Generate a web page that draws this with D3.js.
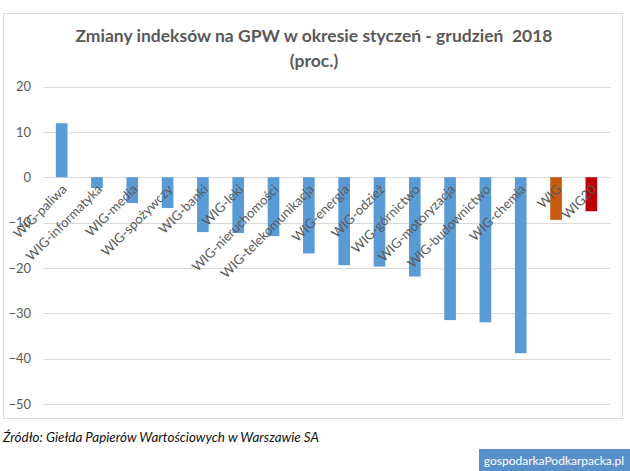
<!DOCTYPE html>
<html><head><meta charset="utf-8">
<script src="https://cdn.jsdelivr.net/npm/d3@7"></script>
<style>
body{margin:0;background:#fff;}
svg{display:block;font-family:Lato,"Open Sans",sans-serif;}
</style></head>
<body>
<svg id="c" width="630" height="471"></svg>
<script>
const categories = ["WIG-paliwa","WIG-informatyka","WIG-media","WIG-spożywczy","WIG-banki","WIG-leki","WIG-nieruchomości","WIG-telekomunikacja","WIG-energia","WIG-odzież","WIG-górnictwo","WIG-motoryzacja","WIG-budownictwo","WIG-chemia","WIG","WIG20"];
const values = [11.9,-2.4,-5.7,-6.8,-12.1,-12.3,-13.0,-16.8,-19.4,-19.7,-21.9,-31.5,-32.0,-38.8,-9.4,-7.5];
const barColors = ["#5b9bd5","#5b9bd5","#5b9bd5","#5b9bd5","#5b9bd5","#5b9bd5","#5b9bd5","#5b9bd5","#5b9bd5","#5b9bd5","#5b9bd5","#5b9bd5","#5b9bd5","#5b9bd5","#c55a11","#c00000"];
const yTicks = [20,10,0,-10,-20,-30,-40,-50];
const titleLines = ["Zmiany indeksów na GPW w okresie styczeń - grudzień  2018","(proc.)"];
const sourceText = "Źródło: Giełda Papierów Wartościowych w Warszawie SA";
const brandText = "gospodarkaPodkarpacka.pl";

const svg = d3.select("#c");
// chart frame
svg.append("rect").attr("x",3.5).attr("y",13.5).attr("width",619).attr("height",405)
  .attr("fill","#fff").attr("stroke","#d9d9d9");

const x = d3.scaleBand().domain(categories).range([44,609]).paddingInner(0.67).paddingOuter(0.335);
const y = d3.scaleLinear().domain([-50,20]).range([404,86.5]);

// gridlines
svg.append("g").selectAll("line").data(yTicks).join("line")
  .attr("x1",44).attr("x2",610).attr("y1",d=>Math.round(y(d))+0.5).attr("y2",d=>Math.round(y(d))+0.5)
  .attr("stroke","#d9d9d9").attr("stroke-width",1);

// y axis labels
const yAxis = d3.axisLeft(y).tickValues(yTicks).tickSize(0).tickPadding(0).tickFormat(d3.format("d"));
const ga = svg.append("g").attr("transform","translate(31,0)").call(yAxis);
ga.select(".domain").remove();
ga.selectAll("text").attr("fill","#595959").attr("font-size","13px").attr("font-family","Lato,sans-serif");

// bars
svg.append("g").selectAll("rect").data(values).join("rect")
  .attr("x",(d,i)=>x(categories[i]))
  .attr("width",x.bandwidth())
  .attr("y",d=>y(Math.max(0,d)))
  .attr("height",d=>Math.abs(y(d)-y(0)))
  .attr("fill",(d,i)=>barColors[i]);

// category labels
const xAxis = d3.axisBottom(x).tickSize(0).tickPadding(0);
const gx = svg.append("g").attr("transform",`translate(0,${y(0)})`).call(xAxis);
gx.select(".domain").remove();
gx.selectAll("text")
  .attr("font-size","13.2px").attr("font-family","Lato,sans-serif").attr("fill","#595959")
  .attr("text-anchor","end").attr("dy",null).attr("y",0)
  .attr("transform","translate(6,13) rotate(-45)");

// title
svg.append("g").selectAll("text").data(titleLines).join("text")
  .attr("x",314).attr("y",(d,i)=>42+i*25).attr("text-anchor","middle")
  .style("white-space","pre")
  .attr("font-size","17.5px").attr("font-weight","bold").attr("fill","#595959").text(d=>d);

// source
svg.append("text").attr("x",3).attr("y",442).attr("font-style","italic")
  .attr("font-size","13.4px").attr("fill","#111").text(sourceText);

// brand
svg.append("rect").attr("x",479).attr("y",449).attr("width",151).attr("height",22).attr("fill","#5b8fc9");
svg.append("text").attr("x",554).attr("y",465).attr("text-anchor","middle")
  .attr("font-size","12px").attr("fill","#fff").text(brandText);
</script>
</body></html>
